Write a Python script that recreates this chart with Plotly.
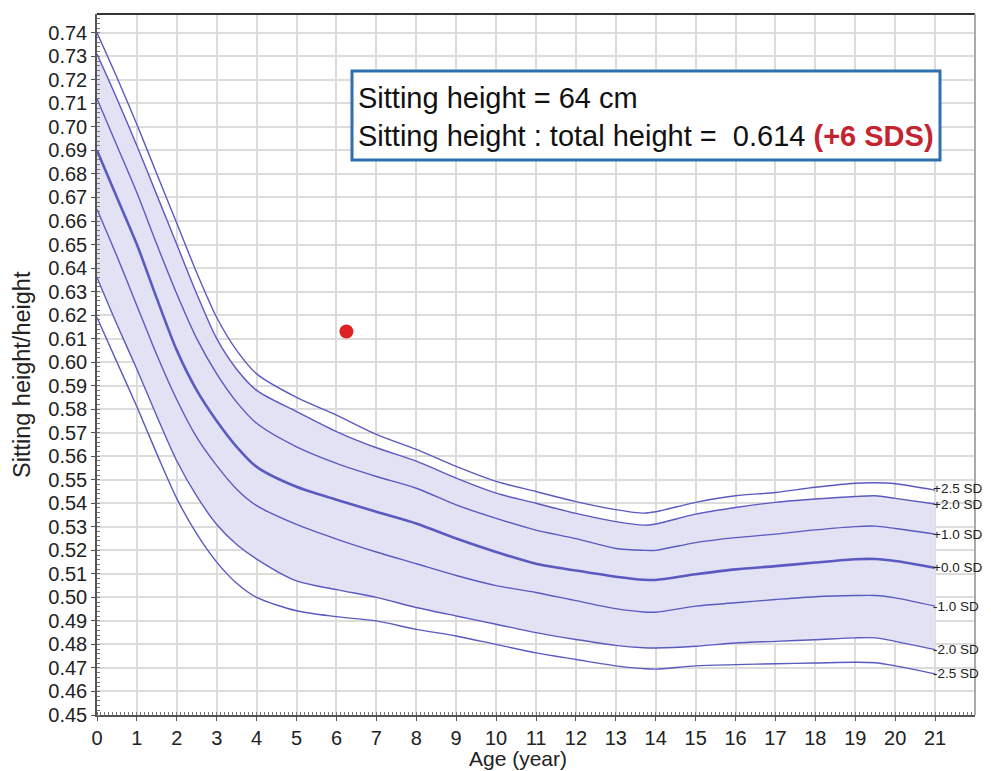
import plotly.graph_objects as go

# ---- data ----
ages = [0, 0.5, 1, 1.5, 2, 2.5, 3, 3.5, 4, 5, 6, 7, 8, 9, 10, 11, 12, 13, 13.7, 14,
        15, 16, 17, 18, 19, 19.5, 20, 21]
sd_p25 = [0.740, 0.721, 0.701, 0.680, 0.659, 0.638, 0.619, 0.605, 0.595, 0.585, 0.5775,
          0.5693, 0.5629, 0.5557, 0.5493, 0.545, 0.5407, 0.5373, 0.5358, 0.5364,
          0.5404, 0.5432, 0.5446, 0.5468, 0.5485, 0.5487, 0.5483, 0.5456]
sd_p20 = [0.731, 0.712, 0.692, 0.671, 0.650, 0.629, 0.610, 0.597, 0.588, 0.579, 0.5705,
          0.5636, 0.5579, 0.5507, 0.5443, 0.540, 0.5357, 0.5322, 0.5307, 0.5312,
          0.5354, 0.5382, 0.5404, 0.5418, 0.5429, 0.5432, 0.5421, 0.5397]
sd_p10 = [0.712, 0.692, 0.672, 0.650, 0.629, 0.610, 0.595, 0.583, 0.574, 0.564, 0.557,
          0.5514, 0.5464, 0.5393, 0.5336, 0.5286, 0.525, 0.5208, 0.5200, 0.5200,
          0.5233, 0.5254, 0.5269, 0.5287, 0.5301, 0.5303, 0.5293, 0.5269]
sd_0 = [0.690, 0.670, 0.650, 0.627, 0.605, 0.588, 0.575, 0.564, 0.5555, 0.547, 0.5415,
        0.5364, 0.5314, 0.525, 0.5193, 0.5143, 0.5114, 0.5088, 0.5075, 0.5074,
        0.5098, 0.5119, 0.5133, 0.5148, 0.5162, 0.5163, 0.5155, 0.5126]
sd_m10 = [0.665, 0.645, 0.624, 0.603, 0.584, 0.568, 0.556, 0.546, 0.539, 0.531, 0.5248,
          0.5193, 0.5143, 0.5093, 0.505, 0.5021, 0.4986, 0.4952, 0.4938, 0.4937,
          0.4963, 0.4977, 0.4991, 0.5003, 0.5008, 0.5008, 0.4998, 0.4963]
sd_m20 = [0.636, 0.616, 0.597, 0.577, 0.558, 0.543, 0.531, 0.5225, 0.5163, 0.507, 0.5033,
          0.500, 0.4957, 0.4921, 0.4886, 0.485, 0.4821, 0.4796, 0.4786, 0.4785,
          0.4792, 0.4806, 0.4813, 0.482, 0.4828, 0.4828, 0.4813, 0.4778]
sd_m25 = [0.619, 0.600, 0.581, 0.561, 0.542, 0.527, 0.5150, 0.506, 0.500, 0.4943, 0.4918,
          0.490, 0.4864, 0.4836, 0.480, 0.4764, 0.4736, 0.4709, 0.4697, 0.4695,
          0.4709, 0.4714, 0.4718, 0.4721, 0.4724, 0.4722, 0.4709, 0.4675]
sd_labels = ["+2.5 SD", "+2.0 SD", "+1.0 SD", "+0.0 SD", "-1.0 SD", "-2.0 SD", "-2.5 SD"]
patient_age = [6.25]
patient_ratio = [0.613]
x_ticks = list(range(0, 22))
y_ticks = [round(0.45 + 0.01 * i, 2) for i in range(30)]

LINE = "#5a5ac0"
FILL = "rgb(226,226,244)"
SM = 0.8
FONT = "Liberation Sans, Arial"

# page offset (body margin) compensated geometry
W, H = 983, 763
ML, MR, MT, MB = 89, 16, 6, 56
PW, PH = W - ML - MR, H - MT - MB


def px(xs):  # screen x (reference pixels) -> paper
    return (xs - 8 - ML) / PW


def py(ys):  # screen y (reference pixels) -> paper
    return 1 - (ys - 8 - MT) / PH


fig = go.Figure()
fig.add_trace(go.Scatter(x=ages, y=sd_m20, mode="lines", line=dict(width=0, shape="spline", smoothing=SM),
                         hoverinfo="skip", showlegend=False))
fig.add_trace(go.Scatter(x=ages, y=sd_p20, mode="lines", line=dict(width=0, shape="spline", smoothing=SM),
                         fill="tonexty", fillcolor=FILL, hoverinfo="skip", showlegend=False))

series = [sd_p25, sd_p20, sd_p10, sd_0, sd_m10, sd_m20, sd_m25]
label_shift = [2, -1, 0, 0, 0, 0, 0]
for name, ys, sh in zip(sd_labels, series, label_shift):
    w = 2.6 if name == "+0.0 SD" else 1.4
    fig.add_trace(go.Scatter(x=ages, y=ys, mode="lines", name=name,
                             line=dict(color=LINE, width=w, shape="spline", smoothing=SM),
                             showlegend=False))
    fig.add_annotation(x=ages[-1], y=ys[-1], text=name, showarrow=False, xanchor="left",
                       yanchor="middle", xshift=-4, yshift=sh,
                       font=dict(size=13.5, color="#222", family=FONT))

fig.add_trace(go.Scatter(x=patient_age, y=patient_ratio, mode="markers",
                         marker=dict(size=14, color="#dd2222"), showlegend=False))

# text box
fig.add_shape(type="rect", xref="paper", yref="paper", x0=px(352), x1=px(940),
              y0=py(160), y1=py(71), line=dict(color="#2e6fb0", width=3), fillcolor="white")
fig.add_annotation(xref="paper", yref="paper", x=px(356), y=py(98),
                   text="Sitting height = 64 cm", showarrow=False, xanchor="left", yanchor="middle",
                   font=dict(size=29, color="#111", family=FONT))
fig.add_annotation(xref="paper", yref="paper", x=px(356), y=py(136),
                   text="Sitting height : total height =  0.614 <b><span style='color:#c42330'>(+6 SDS)</span></b>",
                   showarrow=False, xanchor="left", yanchor="middle",
                   font=dict(size=29, color="#111", family=FONT))

# frame lines
fig.add_shape(type="line", xref="paper", yref="paper", x0=0, x1=1, y0=1, y1=1,
              line=dict(color="#333", width=2))
fig.add_shape(type="line", xref="paper", yref="paper", x0=1, x1=1, y0=0, y1=1,
              line=dict(color="#aaa", width=2))

# axis titles
fig.add_annotation(xref="paper", yref="paper", x=px(518), y=py(758), text="Age (year)",
                   showarrow=False, xanchor="center", yanchor="middle",
                   font=dict(size=21, color="#222", family=FONT))
fig.add_annotation(xref="paper", yref="paper", x=px(22), y=py(375), text="Sitting height/height",
                   showarrow=False, xanchor="center", yanchor="middle", textangle=-90,
                   font=dict(size=23.5, color="#222", family=FONT))

fig.update_layout(
    width=W, height=H,
    margin=dict(l=ML, r=MR, t=MT, b=MB, autoexpand=False),
    paper_bgcolor="white", plot_bgcolor="white",
    font=dict(family=FONT, color="#222"),
    xaxis=dict(range=[0, 22], tickvals=x_ticks, ticktext=[str(v) for v in x_ticks],
               showgrid=True, gridcolor="#dcdcdc", gridwidth=1.5,
               showline=True, linecolor="#555", linewidth=1.5,
               ticks="outside", ticklen=4, tickcolor="#555",
               minor=dict(dtick=0.1, ticks="inside", ticklen=3, tickcolor="#777", showgrid=False),
               tickfont=dict(size=20), zeroline=False, automargin=False),
    yaxis=dict(range=[0.45, 0.748], tickvals=y_ticks, ticktext=["%.2f" % v for v in y_ticks],
               showgrid=True, gridcolor="#dcdcdc", gridwidth=1.5,
               showline=True, linecolor="#555", linewidth=1.5,
               ticks="outside", ticklen=4, tickcolor="#555",
               minor=dict(dtick=0.002, ticks="inside", ticklen=3, tickcolor="#777", showgrid=False),
               tickfont=dict(size=20), zeroline=False, automargin=False),
)

fig.write_html("out.html")
